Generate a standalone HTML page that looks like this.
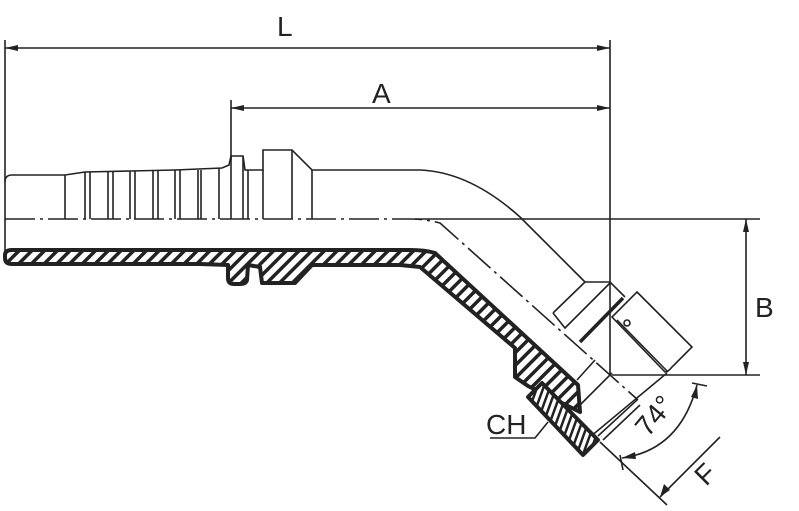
<!DOCTYPE html>
<html><head><meta charset="utf-8"><style>
html,body{margin:0;padding:0;background:#fff;width:799px;height:511px;overflow:hidden}
svg{display:block}
text{font-family:"Liberation Sans",sans-serif;fill:#222}
</style></head><body>
<svg width="799" height="511" viewBox="0 0 799 511" xmlns="http://www.w3.org/2000/svg">
<defs>
<pattern id="h" patternUnits="userSpaceOnUse" width="9" height="9" patternTransform="rotate(45)">
<rect width="9" height="9" fill="#fff"/><rect width="3.5" height="9" fill="#222"/>
</pattern>
<pattern id="h2" patternUnits="userSpaceOnUse" width="6" height="6" patternTransform="rotate(20)">
<rect width="6" height="6" fill="#fff"/><rect width="2.5" height="6" fill="#222"/>
</pattern>
</defs>
<g stroke="#222" fill="none" stroke-width="1.6">
<line x1="5" y1="40" x2="5" y2="252"/>
<line x1="610" y1="40" x2="610" y2="375"/>
<line x1="5" y1="48" x2="610" y2="48"/>
<line x1="231" y1="100" x2="231" y2="160"/>
<line x1="231" y1="108" x2="610" y2="108"/>
<line x1="415" y1="219" x2="760" y2="219"/>
<line x1="612" y1="375" x2="760" y2="375"/>
<line x1="746" y1="219" x2="746" y2="375"/>
<path d="M5,219 L410,219 Q425,219 440,223 L638,400" stroke-dasharray="30,5,3,5"/>
<path d="M5,182 Q5,175 12,175 L65,175 L85,172 L130,171 L175,170 L222,168 L229,165 L231,156 L243,156 L245,170 L263,170 L263,150 L292,150 L312,170 L420,170 Q470,172 520,217 L585,282"/>
<line x1="65" y1="175" x2="65" y2="219"/><line x1="85" y1="172" x2="85" y2="219"/><line x1="90" y1="172" x2="90" y2="219"/>
<line x1="108" y1="172" x2="108" y2="219"/><line x1="113" y1="172" x2="113" y2="219"/>
<line x1="130" y1="171" x2="130" y2="219"/><line x1="135" y1="171" x2="135" y2="219"/>
<line x1="153" y1="171" x2="153" y2="219"/><line x1="158" y1="171" x2="158" y2="219"/>
<line x1="175" y1="170" x2="175" y2="219"/><line x1="180" y1="170" x2="180" y2="219"/>
<line x1="198" y1="170" x2="198" y2="219"/><line x1="201" y1="170" x2="201" y2="219"/>
<line x1="219" y1="168" x2="219" y2="219"/><line x1="231" y1="156" x2="231" y2="219"/>
<line x1="243" y1="156" x2="243" y2="219"/><line x1="248" y1="170" x2="248" y2="219"/>
<line x1="263" y1="170" x2="263" y2="219"/><line x1="292" y1="150" x2="292" y2="219"/>
<line x1="312" y1="170" x2="312" y2="219"/>
<path d="M585,282 L610,282 L625,297"/>
<path d="M553,313 L585,282"/>
<path d="M553,313 L565,328 L610,283"/>
<path d="M637,292 L692,347 L672,367 Q668,372 665,372 L612,317 Z"/>
<line x1="617" y1="320" x2="668" y2="372"/>
<line x1="580" y1="342" x2="623" y2="298" stroke-width="3.5"/>
<circle cx="627" cy="323" r="3"/>
<line x1="577" y1="380" x2="595" y2="360"/>
<line x1="580" y1="405" x2="612" y2="373"/>
<line x1="598" y1="436" x2="637" y2="400"/>
<line x1="603" y1="440" x2="640" y2="405"/>
<line x1="590" y1="437" x2="667" y2="373"/>
<line x1="600" y1="442" x2="667" y2="505"/>
<line x1="720" y1="437" x2="660" y2="497"/>
<line x1="620" y1="455" x2="623" y2="470"/>
<path d="M622,458 Q680,450 697,385"/>
<line x1="692" y1="383" x2="707" y2="386"/>
<path d="M490,438 L535,438 L548,422"/>
</g>
<g fill="#222">
<polygon points="5,48 18,45 18,51"/><polygon points="610,48 597,45 597,51"/>
<polygon points="231,108 244,105 244,111"/><polygon points="610,108 597,105 597,111"/>
<polygon points="746,219 743,232 749,232"/><polygon points="746,375 743,362 749,362"/>
<polygon points="660,497 664,484 670,490"/>
<polygon points="622,458 635,452 636,459"/>
<polygon points="697,385 691,397 698,399"/>
</g>
<path d="M5,255 Q5,250 12,250 L410,250 Q425,250 435,253 L578,385 L580,412 L528,386 L515,377 L515,348 L420,267 L400,265 L312,265 L295,283 L262,283 L260,267 L248,265 L247,280 Q246,284 240,284 L234,284 Q228,284 228,278 L228,265 L200,264 L150,264 L100,264 L12,264 Q5,264 5,258 Z" fill="url(#h)" stroke="#222" stroke-width="4" stroke-linejoin="round"/>
<path d="M528,397 L542,383 L598,440 L583,455 Z" fill="url(#h2)" stroke="#222" stroke-width="4" stroke-linejoin="round"/>
<text x="277" y="36" font-size="28">L</text>
<text x="372" y="103" font-size="28">A</text>
<text x="755" y="317" font-size="28">B</text>
<text x="486" y="434" font-size="28">CH</text>
<text x="0" y="0" font-size="28" transform="translate(648,438) rotate(-50)">74°</text>
<text x="0" y="0" font-size="28" transform="translate(706,487) rotate(-45)">F</text>
</svg>
</body></html>
